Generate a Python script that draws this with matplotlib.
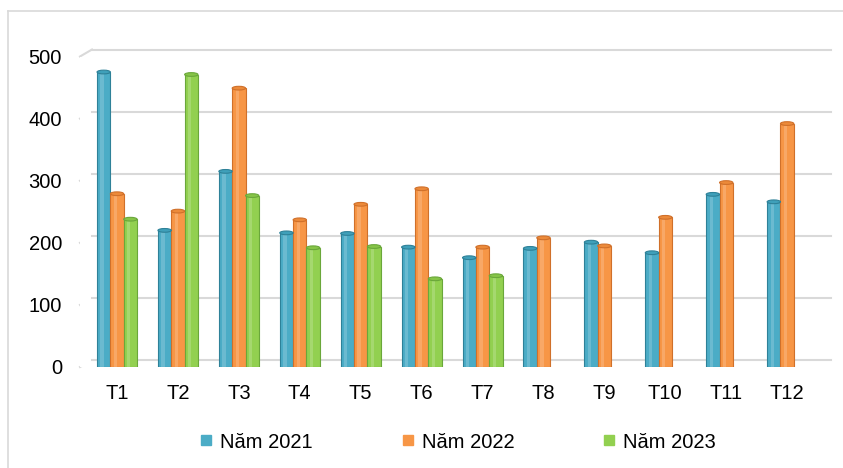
import matplotlib.pyplot as plt
import matplotlib.transforms as mtransforms
import numpy as np
from matplotlib.lines import Line2D
from matplotlib.patches import Ellipse

plt.rcParams["font.family"] = ["Liberation Sans", "DejaVu Sans"]

months = ["T1", "T2", "T3", "T4", "T5", "T6", "T7", "T8", "T9", "T10", "T11", "T12"]
y2021 = [475, 220, 315, 216, 215, 193, 176, 191, 201, 184, 278, 266]
y2022 = [279, 251, 449, 237, 262, 287, 193, 208, 195, 241, 297, 392]
y2023 = [238, 471, 276, 192, 194, 142, 147, None, None, None, None, None]
series_names = ["Năm 2021", "Năm 2022", "Năm 2023"]
yticks = [0, 100, 200, 300, 400, 500]

colors = ["#4BACC6", "#F79646", "#92D050"]
edges = ["#2E8198", "#D0702A", "#6AA73A"]
tops = ["#3FA0BA", "#EC8A3A", "#86C447"]
GRID = "#D9D9D9"

W, H = 843, 468
fig = plt.figure(figsize=(W / 100, H / 100), dpi=100)
# axes box in pixels: x 80..831, y (front plane) 56.5..367
ax = fig.add_axes([80 / W, 1 - 367 / H, 751 / W, 310.5 / H])

x = np.arange(len(months))
w = 0.219
cap_h = 6

for k, (vals, c, ec, tc) in enumerate(zip([y2021, y2022, y2023], colors, edges, tops)):
    xs = x + (k - 1) * w
    for xi, v in zip(xs, vals):
        if v is None:
            continue
        ax.bar(xi, v, w, color=c, edgecolor=ec, lw=0.8, zorder=3)
        # light strip for a cylinder look
        ax.bar(xi - w * 0.12, v, w * 0.25, color="white", alpha=0.18, lw=0, zorder=4)
        ax.add_patch(Ellipse((xi, v), w, cap_h, facecolor=tc, edgecolor=ec,
                             lw=0.8, zorder=5))

ax.set_xlim(-0.608, 11.72)
ax.set_ylim(0, 500)
ax.set_yticks(yticks)
ax.set_xticks(x)
ax.set_xticklabels(months)
ax.tick_params(axis="both", length=0, labelsize=14.5, colors="#000000")
ax.tick_params(axis="y", pad=13)
ax.tick_params(axis="x", pad=12)
for s in ax.spines.values():
    s.set_visible(False)

# gridlines on the back wall (shifted up), joined to the front edge by a slant
back = mtransforms.ScaledTranslation(0, 7 / 100, fig.dpi_scale_trans)
trans = mtransforms.blended_transform_factory(ax.transAxes, ax.transData)
inv = fig.transFigure.inverted()
for t in yticks:
    ax.add_line(Line2D([0.016, 1.0], [t, t], transform=trans + back,
                       color=GRID, lw=1.5, zorder=0, clip_on=False))
    a = inv.transform(trans.transform((0.0, t)))
    b = inv.transform((trans + back).transform((0.016, t)))
    fig.add_artist(Line2D([a[0], b[0]], [a[1], b[1]], transform=fig.transFigure,
                          color=GRID, lw=1.5, zorder=0))

handles = [Line2D([], [], marker="s", ls="", markersize=6.5, color=c) for c in colors]
fig.legend(handles, series_names, loc="center", bbox_to_anchor=(0.542, 1 - 442 / H),
           ncol=3, frameon=False, fontsize=14.5, columnspacing=4.3,
           handletextpad=0.3, handlelength=0.8)

# chart frame (top and left edges visible)
fig.add_artist(Line2D([8 / W, 1], [1 - 11 / H, 1 - 11 / H],
                      transform=fig.transFigure, color=GRID, lw=1.2))
fig.add_artist(Line2D([8 / W, 8 / W], [0, 1 - 11 / H],
                      transform=fig.transFigure, color=GRID, lw=1.2))

fig.savefig("out.png", dpi=100, facecolor="white")
